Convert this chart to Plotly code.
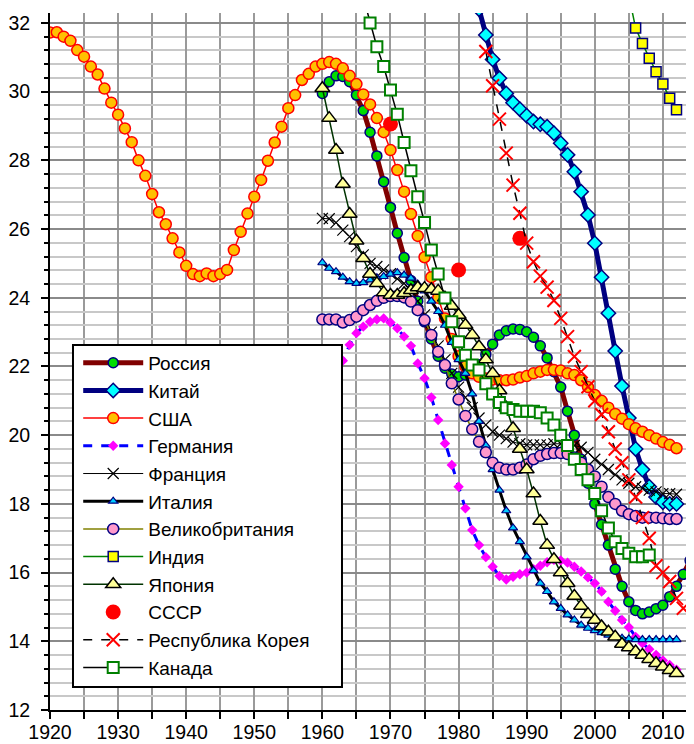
import plotly.graph_objects as go

# --- data ---
usa_start = 1920
usa = [31.72, 31.73, 31.60, 31.48, 31.21, 31.02, 30.73, 30.50, 30.09, 29.68,
       29.33, 28.93, 28.53, 28.00, 27.55, 27.02, 26.49, 26.14, 25.73, 25.32,
       24.93, 24.69, 24.63, 24.71, 24.63, 24.69, 24.81, 25.39, 25.92, 26.45,
       26.94, 27.43, 27.99, 28.52, 28.98, 29.52, 29.90, 30.34, 30.52, 30.73,
       30.81, 30.86, 30.81, 30.68, 30.46, 30.22, 29.92, 29.63, 29.23, 28.82,
       28.30, 27.72, 27.09, 26.44, 25.80, 25.18, 24.60, 24.00, 23.40, 22.80,
       22.30, 22.00, 21.80, 21.70, 21.65, 21.62, 21.60, 21.60, 21.62, 21.68,
       21.72, 21.80, 21.85, 21.90, 21.90, 21.88, 21.80, 21.75, 21.60, 21.40,
       21.17, 21.00, 20.80, 20.62, 20.48, 20.32, 20.20, 20.10, 20.00, 19.90,
       19.80, 19.72, 19.62]

russia_start = 1960
russia = [29.95, 30.29, 30.46, 30.44, 30.29, 29.90, 29.45, 28.82, 28.13, 27.38,
          26.63, 25.88, 25.17, 24.50, 23.90, 23.30, 22.80, 22.30, 21.95, 21.78,
          21.70, 21.75, 21.85, 22.05, 22.35, 22.65, 22.92, 23.04, 23.09, 23.08,
          23.01, 22.85, 22.60, 22.25, 21.85, 21.40, 20.70, 20.00, 19.30, 18.60,
          18.00, 17.40, 16.80, 16.10, 15.60, 15.15, 14.90, 14.80, 14.85, 14.95,
          15.05, 15.30, 15.60, 15.95, 16.35]

china_start = 1983
china = [32.40, 31.65, 30.94, 30.39, 29.95, 29.68, 29.49, 29.30, 29.13, 29.05,
         28.98, 28.79, 28.50, 28.16, 27.67, 27.09, 26.41, 25.59, 24.60, 23.55,
         22.45, 21.43, 20.50, 19.60, 19.00, 18.50, 18.20, 18.05, 18.00, 18.00]

germany_start = 1960
germany = [21.12, 21.39, 21.80, 22.17, 22.63, 22.97, 23.16, 23.30, 23.37, 23.40,
           23.28, 23.11, 22.87, 22.60, 22.09, 21.66, 21.10, 20.44, 19.76, 19.13,
           18.50, 17.87, 17.24, 16.80, 16.45, 16.17, 15.90, 15.80, 15.88, 15.95,
           16.00, 16.10, 16.20, 16.30, 16.37, 16.35, 16.29, 16.17, 16.03, 15.86,
           15.69, 15.45, 15.15, 14.89, 14.62, 14.41, 14.13, 13.94, 13.77, 13.60,
           13.44, 13.31, 13.17]

france_start = 1960
france = [26.31, 26.30, 26.19, 25.97, 25.78, 25.49, 25.25, 25.00, 24.91, 24.81,
          24.70, 24.55, 24.42, 24.20, 23.90, 23.50, 23.00, 22.60, 22.20, 21.80,
          21.40, 21.10, 20.80, 20.50, 20.30, 20.10, 20.00, 19.90, 19.80, 19.75,
          19.72, 19.72, 19.72, 19.72, 19.75, 19.75, 19.72, 19.70, 19.65, 19.50,
          19.30, 19.15, 19.00, 18.85, 18.70, 18.60, 18.50, 18.45, 18.40, 18.35,
          18.30, 18.30, 18.28]

italy_start = 1960
italy = [25.02, 24.86, 24.76, 24.60, 24.47, 24.42, 24.44, 24.52, 24.58, 24.62,
         24.69, 24.73, 24.66, 24.57, 24.40, 24.20, 23.90, 23.60, 23.20, 22.70,
         22.20, 21.80, 21.20, 20.40, 19.70, 19.00, 18.40, 17.80, 17.30, 16.90,
         16.46, 16.06, 15.69, 15.45, 15.15, 14.96, 14.77, 14.62, 14.47, 14.38,
         14.31, 14.25, 14.18, 14.13, 14.09, 14.07, 14.05, 14.05, 14.05, 14.05,
         14.05, 14.05, 14.05]

uk_start = 1960
uk = [23.37, 23.37, 23.37, 23.28, 23.35, 23.45, 23.64, 23.79, 23.91, 24.00,
      24.05, 24.05, 24.01, 23.89, 23.64, 23.35, 22.92, 22.43, 22.04, 21.51,
      21.04, 20.56, 20.17, 19.81, 19.50, 19.20, 19.05, 19.00, 19.00, 19.05,
      19.15, 19.30, 19.40, 19.45, 19.48, 19.48, 19.45, 19.35, 19.20, 19.00,
      18.80, 18.50, 18.20, 18.00, 17.80, 17.70, 17.65, 17.60, 17.60, 17.60,
      17.58, 17.56, 17.56]

india_start = 2005
india = [32.80, 31.85, 31.40, 30.97, 30.58, 30.22, 29.81, 29.47]

japan_start = 1960
japan = [30.10, 29.23, 28.30, 27.31, 26.44, 25.66, 25.15, 24.69, 24.42, 24.15,
         24.08, 24.08, 24.13, 24.22, 24.30, 24.28, 24.25, 24.20, 24.00, 23.76,
         23.50, 23.21, 22.92, 22.58, 22.20, 21.80, 21.30, 20.80, 20.20, 19.60,
         19.00, 18.30, 17.50, 16.80, 16.39, 16.00, 15.69, 15.32, 15.03, 14.79,
         14.62, 14.43, 14.28, 14.13, 13.92, 13.82, 13.70, 13.60, 13.48, 13.36,
         13.26, 13.16, 13.07]

ussr_years = [1970, 1980, 1989]
ussr = [29.06, 24.81, 25.73]

korea_start = 1984
korea = [31.17, 30.17, 29.20, 28.21, 27.28, 26.46, 25.59, 25.05, 24.63, 24.31,
         23.92, 23.40, 22.87, 22.29, 21.85, 21.41, 21.00, 20.60, 20.10, 19.60,
         19.20, 18.70, 18.20, 17.60, 17.00, 16.20, 16.00, 15.74, 15.25, 14.96]

canada_start = 1966
canada = [32.75, 32.00, 31.31, 30.73, 30.05, 29.34, 28.52, 27.70, 26.94, 26.19,
          25.39, 24.69, 23.99, 23.30, 22.72, 22.33, 22.04, 21.90, 21.50, 21.20,
          20.95, 20.80, 20.75, 20.70, 20.70, 20.70, 20.65, 20.50, 20.30, 20.00,
          19.70, 19.30, 19.00, 18.70, 18.30, 17.80, 17.30, 16.90, 16.70, 16.56,
          16.46, 16.46, 16.51]


def years(start, values):
    return list(range(start, start + len(values)))


fig = go.Figure()

# traces in legend order (later ones drawn on top, as in the original)
fig.add_trace(go.Scatter(
    x=years(russia_start, russia), y=russia, name="Россия", mode="lines+markers",
    line=dict(color="#800000", width=5),
    marker=dict(symbol="circle", size=10, color="#00DD00",
                line=dict(color="#000080", width=1.5))))

fig.add_trace(go.Scatter(
    x=years(china_start, china), y=china, name="Китай", mode="lines+markers",
    line=dict(color="#000080", width=5),
    marker=dict(symbol="diamond", size=11, color="#00FFFF",
                line=dict(color="#000080", width=1.5))))

fig.add_trace(go.Scatter(
    x=years(usa_start, usa), y=usa, name="США", mode="lines+markers",
    line=dict(color="#FF0000", width=1.5),
    marker=dict(symbol="circle", size=11, color="#FFC000",
                line=dict(color="#FF0000", width=1.5))))

fig.add_trace(go.Scatter(
    x=years(germany_start, germany), y=germany, name="Германия", mode="lines+markers",
    line=dict(color="#0000FF", width=3, dash="dash"),
    marker=dict(symbol="diamond", size=8, color="#FF00FF")))

fig.add_trace(go.Scatter(
    x=years(france_start, france), y=france, name="Франция", mode="lines+markers",
    line=dict(color="#000000", width=1),
    marker=dict(symbol="x-thin-open", size=11, color="#000000",
                line=dict(color="#000000", width=1.2))))

fig.add_trace(go.Scatter(
    x=years(italy_start, italy), y=italy, name="Италия", mode="lines+markers",
    line=dict(color="#000000", width=3),
    marker=dict(symbol="triangle-up", size=8, color="#00CCFF",
                line=dict(color="#000080", width=1.2))))

fig.add_trace(go.Scatter(
    x=years(uk_start, uk), y=uk, name="Великобритания", mode="lines+markers",
    line=dict(color="#808000", width=1.5),
    marker=dict(symbol="circle", size=11, color="#FF99CC",
                line=dict(color="#000080", width=1.5))))

fig.add_trace(go.Scatter(
    x=years(india_start, india), y=india, name="Индия", mode="lines+markers",
    line=dict(color="#008000", width=1.5),
    marker=dict(symbol="square", size=10, color="#FFFF00",
                line=dict(color="#000080", width=1.5))))

fig.add_trace(go.Scatter(
    x=years(japan_start, japan), y=japan, name="Япония", mode="lines+markers",
    line=dict(color="#003300", width=1.5),
    marker=dict(symbol="triangle-up", size=13, color="#FFFF99",
                line=dict(color="#000000", width=1.5))))

fig.add_trace(go.Scatter(
    x=ussr_years, y=ussr, name="СССР", mode="markers",
    marker=dict(symbol="circle", size=15, color="#FF0000")))

fig.add_trace(go.Scatter(
    x=years(korea_start, korea), y=korea, name="Республика Корея", mode="lines+markers",
    line=dict(color="#000000", width=1.5, dash="dash"),
    marker=dict(symbol="x-thin-open", size=13, color="#FF0000",
                line=dict(color="#FF0000", width=2))))

fig.add_trace(go.Scatter(
    x=years(canada_start, canada), y=canada, name="Канада", mode="lines+markers",
    line=dict(color="#000000", width=1.5),
    marker=dict(symbol="square", size=11, color="#FFFFFF",
                line=dict(color="#008000", width=2))))

# legend frame drawn as a shape so its size matches the original box
fig.add_shape(type="rect", xref="paper", yref="paper",
              x0=0.0357, x1=0.4534, y0=0.033, y1=0.5237,
              line=dict(color="black", width=2), fillcolor="white", layer="above")

# --- layout ---
# the page body has an 8px margin, so the figure is sized/offset to compensate
fig.update_layout(
    width=686, height=736, autosize=False,
    margin=dict(l=42, r=0, t=5, b=34),
    paper_bgcolor="white", plot_bgcolor="white",
    font=dict(family="Liberation Sans, Arial, sans-serif", color="black"),
    legend=dict(
        x=0.0438, y=0.5253, xanchor="left", yanchor="top",
        bgcolor="rgba(0,0,0,0)", borderwidth=0,
        font=dict(size=19), itemwidth=60,
        traceorder="normal",
    ),
    showlegend=True,
)

fig.update_xaxes(
    range=[1920, 2014.57], tick0=1920, dtick=10, automargin=False,
    showgrid=True, gridcolor="#9a9a9a", gridwidth=2,
    showline=True, linecolor="black", linewidth=2,
    ticks="outside", ticklen=7, tickwidth=2, tickcolor="black",
    tickfont=dict(size=19.5), ticklabelstandoff=-3, zeroline=False,
    minor=dict(dtick=5, tick0=1920, showgrid=True, gridcolor="#9a9a9a", gridwidth=2,
               ticks="outside", ticklen=7, tickwidth=2, tickcolor="black"),
)

fig.update_yaxes(
    range=[12, 32.29], tick0=12, dtick=2, automargin=False,
    showgrid=True, gridcolor="#8a8a8a", gridwidth=2,
    showline=True, linecolor="black", linewidth=2,
    ticks="outside", ticklen=7, tickwidth=2, tickcolor="black",
    tickfont=dict(size=19.5), ticklabelstandoff=7, zeroline=False,
    minor=dict(dtick=0.4, tick0=12, showgrid=True, gridcolor="#c8c8c8", gridwidth=2,
               ticks="outside", ticklen=4, tickwidth=1.5, tickcolor="black"),
)

fig.write_html("out.html")
